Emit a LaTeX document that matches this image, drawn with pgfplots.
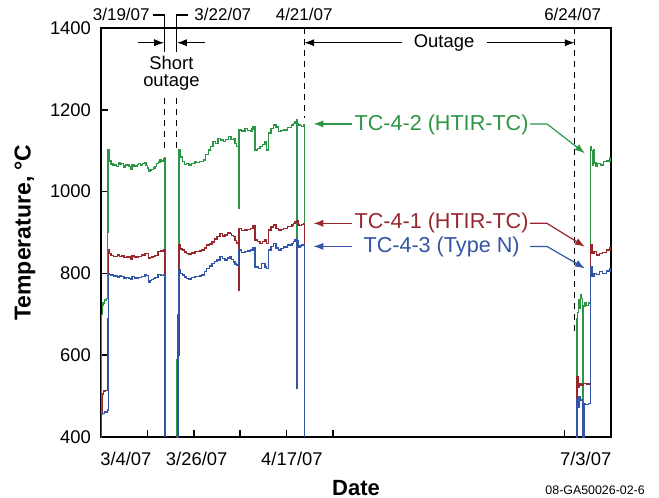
\documentclass[border=0pt]{standalone}
\usepackage{pgfplots}
\pgfplotsset{compat=1.18}
\usepackage{fontspec}
\setmainfont{Liberation Sans}
\usetikzlibrary{arrows.meta}
\definecolor{tcg}{RGB}{45,150,70}
\definecolor{tcr}{RGB}{150,40,45}
\definecolor{tcb}{RGB}{50,85,165}
\begin{document}
\begin{tikzpicture}
\useasboundingbox (0,0) rectangle (329.5pt,249pt);
\begin{axis}[
  at={(50.5pt,30.5pt)}, anchor=south west,
  scale only axis, width=255pt, height=204.5pt,
  xmin=0, xmax=121, ymin=400, ymax=1400,
  axis line style={line width=0.9pt},
  clip=false, no marks,
  unbounded coords=jump,
  xtick={11,22,33,44,55,110}, xticklabels={},
  extra x ticks={5.9,22.7,45.3,115},
  extra x tick labels={3/4/07,3/26/07,4/17/07,7/3/07},
  extra x tick style={major tick length=0pt},
  ytick={400,600,...,1400},
  tick align=inside, major tick length=3.5pt,
  xtick pos=bottom, ytick pos=left,
  tick style={black, line width=0.8pt},
  ticklabel style={font=\fontsize{9.2}{10}\selectfont},
  xticklabel style={yshift=-4pt},
  yticklabel style={xshift=-1.5pt},
  /pgf/number format/assume math mode=true,
  /pgf/number format/1000 sep={},
  xlabel={\bfseries Date},
  xlabel style={font=\fontsize{11}{12}\selectfont, at={(axis description cs:0.5,-0.125)}, anchor=center},
  ylabel={\bfseries Temperature, °C},
  ylabel style={font=\fontsize{11.5}{12}\selectfont, at={(axis description cs:-0.149,0.5)}, anchor=center},
]
% TC-4-2 (green)
\addplot[tcg, line width=0.7pt, const plot] coordinates {
(0.1,405) (0.15,700) (0.3,722) (0.5,728) (0.9,735) (1.3,738) (1.55,742) (1.6,900)
(1.7,1102) (1.9,1075) (2.4,1067) (2.8,1064) (3.3,1065) (3.7,1062) (4.1,1070) (4.5,1066)
(4.9,1068) (5.3,1064) (5.5,1060) (5.8,1066) (6.1,1065) (6.6,1061) (7.1,1055) (7.4,1065)
(7.8,1062) (8.2,1063) (8.6,1066) (8.9,1068) (9.4,1065) (9.9,1069) (10.4,1071) (10.7,1064)
(11.0,1058) (11.2,1049) (11.6,1053) (12.0,1054) (12.4,1058) (12.8,1061) (13.2,1069) (13.6,1072)
(14.0,1077) (14.4,1075) (14.8,1081) (15.1,1083) (15.2,400)
(16.5,nan)
(17.9,400) (18.0,590) (18.3,620) (18.5,1102) (18.8,1085) (19.3,1073) (19.8,1066) (20.3,1069)
(20.9,1065) (21.5,1068) (22.3,1073) (22.7,1071) (23.3,1074) (24.3,1077) (24.8,1090) (25.5,1102)
(26.0,1110) (26.6,1122) (27.2,1118) (27.8,1130) (28.4,1126) (29.0,1122) (29.6,1128) (30.2,1134)
(30.8,1128) (31.4,1130) (31.8,1118) (32.2,1110) (32.5,1110) (32.6,960) (32.7,1151) (33.4,1148)
(34.2,1155) (34.8,1150) (35.4,1147) (35.8,1153) (36.1,1159) (36.4,1159) (36.5,1102) (37.1,1106)
(37.7,1110) (38.3,1115) (38.9,1122) (39.3,1102) (39.7,1143) (40.3,1155) (40.9,1163) (41.5,1158)
(42.1,1147) (42.7,1150) (43.3,1151) (44.2,1157) (45.2,1163) (45.6,1167) (46.0,1171) (46.4,1175)
(46.5,870) (46.6,1165) (46.8,1163) (47.2,1161) (47.6,1159) (48.2,1163) (48.3,400)
(80,nan)
(112.85,400) (112.9,690) (113.1,705) (113.3,735) (113.5,715) (113.7,748) (113.9,738) (114.2,710)
(114.3,400) (114.45,400) (114.5,720) (114.8,728) (115.2,722) (115.6,728) (116.1,726) (116.2,1110)
(116.4,1100) (116.6,1065) (116.8,1102) (117.0,1070) (117.4,1061) (117.8,1069) (118.5,1065)
(119.2,1073) (120.0,1075) (120.8,1085)
};
% TC-4-1 (red)
\addplot[tcr, line width=0.7pt, const plot] coordinates {
(0.05,400) (0.1,455) (0.3,505) (0.6,512) (1.0,514) (1.5,515) (1.6,690) (1.8,857) (2.0,848)
(2.4,844) (2.9,841) (3.3,842) (3.9,845) (4.4,841) (4.9,843) (5.5,839) (6.1,840) (6.6,842)
(7.1,835) (7.4,843) (8.0,840) (8.9,842) (9.6,845) (10.4,849) (10.8,848) (11.2,837) (11.6,839)
(12.0,840) (12.4,842) (12.8,844) (13.5,853) (14.2,855) (14.8,857) (15.1,857) (15.2,400)
(16.5,nan)
(17.9,400) (18.1,540) (18.3,600) (18.5,869) (18.9,860) (19.3,857) (19.8,852) (20.3,849)
(20.9,847) (21.5,850) (22.3,853) (22.7,853) (23.3,855) (23.9,857) (24.5,862) (25.1,869)
(25.7,872) (26.3,877) (26.9,884) (27.5,890) (28.2,898) (28.8,891) (29.4,894) (30.0,899)
(30.6,898) (31.0,893) (31.4,890) (31.8,881) (32.2,873) (32.5,875) (32.6,759) (32.7,910)
(33.4,905) (34.2,906) (34.8,908) (35.4,910) (36.1,916) (36.4,916) (36.5,882) (37.1,878)
(37.7,873) (38.3,878) (38.9,882) (39.3,873) (39.7,906) (40.3,913) (40.9,918) (41.5,910)
(42.1,906) (42.7,908) (43.3,910) (44.3,914) (45.3,918) (45.7,922) (46.0,926) (46.4,930)
(46.7,918) (47.1,917) (47.6,920) (48.2,922) (48.3,400)
(80,nan)
(112.9,400) (112.95,547) (113.2,522) (113.5,531) (113.9,527) (114.5,531) (115.2,530)
(116.1,531) (116.2,869) (116.5,849) (117.0,853) (117.6,845) (118.2,849) (119.0,851)
(120.0,857) (120.8,865)
};
% TC-4-3 (blue)
\addplot[tcb, line width=0.7pt, const plot] coordinates {
(0.05,400) (0.1,455) (0.4,458) (0.8,461) (1.4,463) (1.6,466) (1.75,800) (2.0,798) (2.4,796)
(2.9,793) (3.3,794) (3.9,791) (4.4,794) (4.9,792) (5.5,789) (6.1,790) (6.6,788) (7.1,785)
(7.4,792) (8.0,789) (8.9,790) (9.6,793) (10.4,797) (10.8,795) (11.2,779) (11.6,782)
(12.0,785) (12.4,787) (12.8,790) (13.5,797) (14.2,795) (14.8,796) (15.1,797) (15.2,400)
(16.5,nan)
(18.1,400) (18.3,700) (18.5,808) (18.9,800) (19.3,796) (19.8,791) (20.3,788) (20.9,786)
(21.5,790) (22.3,792) (22.7,792) (23.3,794) (23.9,796) (24.5,804) (25.1,812) (25.7,818)
(26.3,824) (26.9,829) (27.5,833) (28.2,841) (28.8,836) (29.4,833) (30.0,838) (30.6,841)
(31.0,834) (31.4,828) (31.8,823) (32.2,820) (32.5,822) (32.6,857) (33.4,851) (34.2,853)
(34.8,855) (35.4,857) (36.1,864) (36.4,864) (36.5,816) (37.3,812) (38.1,824) (38.9,816)
(39.3,812) (39.7,857) (40.3,866) (40.9,873) (41.5,862) (42.1,857) (42.7,861) (43.3,865)
(44.3,869) (45.3,873) (45.7,878) (46.0,882) (46.4,886) (46.45,519) (46.55,880) (46.8,865)
(47.2,867) (47.6,869) (48.2,869) (48.3,400)
(80,nan)
(112.8,400) (112.9,490) (113.1,473) (113.4,498) (113.8,490) (114.2,485) (114.3,400)
(114.5,400) (114.55,482) (115.0,480) (115.6,482) (116.1,482) (116.2,816) (116.5,792)
(117.0,800) (117.6,798) (118.2,804) (119.0,800) (120.0,806) (120.8,812)
};
% annotations
\tikzset{arr/.style={line width=0.6pt, -{Latex[length=5pt,width=3.6pt]}},
         dsh/.style={line width=0.6pt, dash pattern=on 3pt off 2.5pt}}
\draw[dsh] (15,1230) -- (15,1105);
\draw[dsh] (18,1230) -- (18,1105);
\draw[dsh] (48.2,1400) -- (48.2,1180);
\draw[dsh] (112.4,1400) -- (112.4,650);
\begin{scope}[every node/.style={font=\fontsize{8.5}{9}\selectfont}]
\node[anchor=east, inner sep=1pt] at (12.1,1432) {3/19/07};
\node[anchor=west, inner sep=1pt] at (21.6,1432) {3/22/07};
\node at (48.2,1432) {4/21/07};
\node at (111.9,1432) {6/24/07};
\end{scope}
\draw[line width=0.6pt] (12.3,1432) -- (15,1432) -- (15,1342);
\draw[line width=0.6pt] (18,1342) -- (18,1432) -- (20.6,1432);
\draw[arr] (8.8,1364) -- (15,1364);
\draw[arr] (24.7,1364) -- (18,1364);
\begin{scope}[every node/.style={font=\fontsize{9.2}{10}\selectfont}]
\node at (16.7,1315) {Short};
\node at (16.7,1268) {outage};
\node at (81.4,1364) {Outage};
\end{scope}
\draw[arr] (71.3,1364) -- (48.2,1364);
\draw[arr] (91.5,1364) -- (112.4,1364);
% series labels
\begin{scope}[every node/.style={font=\fontsize{10.8}{12}\selectfont}]
\node[text=tcg] at (80.8,1163) {TC-4-2 (HTIR-TC)};
\node[text=tcr] at (80.8,922.4) {TC-4-1 (HTIR-TC)};
\node[text=tcb] at (80.8,865) {TC-4-3 (Type N)};
\end{scope}
\draw[arr, tcg] (59.5,1165.5) -- (50.4,1165.5);
\draw[arr, tcg] (101.8,1165.5) -- (105.8,1165.5) -- (114.8,1093.7);
\draw[arr, tcr] (59.5,922.4) -- (50.4,922.4);
\draw[arr, tcr] (101.8,922.4) -- (105.8,922.4) -- (114.8,865.1);
\draw[arr, tcb] (59.5,866) -- (50.4,866);
\draw[arr, tcb] (101.8,866) -- (105.8,866) -- (114.8,812.2);
\node[anchor=east, font=\fontsize{6.2}{7}\selectfont] at (axis description cs:1.08,-0.13) {08-GA50026-02-6};
\end{axis}
\end{tikzpicture}
\end{document}
